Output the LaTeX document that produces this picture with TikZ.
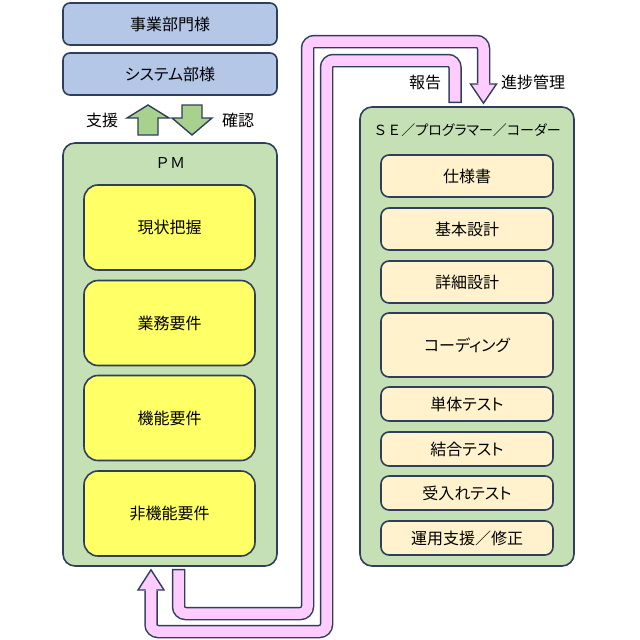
\documentclass[tikz,border=0pt]{standalone}
\usepackage{fontspec}
\setmainfont{Noto Sans CJK JP}[RawFeature=+palt]
\newfontfamily\widefont{Noto Sans CJK JP}
\definecolor{edge}{RGB}{47,62,92}
\definecolor{bluefill}{RGB}{180,199,231}
\definecolor{groupfill}{RGB}{197,224,180}
\definecolor{yellowfill}{RGB}{255,255,102}
\definecolor{creamfill}{RGB}{255,242,204}
\definecolor{arrowgreen}{RGB}{169,209,142}
\definecolor{bandpink}{RGB}{255,204,255}
\begin{document}
\begin{tikzpicture}[x=1pt,y=-1pt,
  txt/.style={font=\fontsize{16}{19}\selectfont},
  topbox/.style={txt,draw=edge,line width=1.6pt,fill=bluefill,rounded corners=7pt,minimum width=214pt,minimum height=42pt},
  groupbox/.style={draw=edge,line width=1.6pt,fill=groupfill,rounded corners=12pt,minimum width=214pt},
  taskbox/.style={txt,draw=edge,line width=1.6pt,fill=yellowfill,rounded corners=14pt,minimum width=171pt,minimum height=85pt},
  workbox/.style={txt,draw=edge,line width=1.6pt,fill=creamfill,rounded corners=8pt,minimum width=172pt},
  greenarrow/.style={draw=edge,line width=1.4pt,fill=arrowgreen,line join=miter},
  bandedge/.style={draw=edge,line width=13.5pt,rounded corners=7pt},
  bandfill/.style={draw=bandpink,line width=10.5pt,rounded corners=7pt},
  bandhead/.style={draw=edge,line width=1.4pt,fill=bandpink,line join=miter}]
  \useasboundingbox (0,0) rectangle (640,640);
  % customer side
  \node[topbox] (jigyo) at (170,24) {事業部門様};
  \node[topbox] (system) at (170,74) {システム部様};
  \filldraw[greenarrow] (138,135) -- (138,118) -- (127,118) -- (148,105) -- (169,118) -- (158,118) -- (158,135) -- cycle;
  \filldraw[greenarrow] (182,105) -- (202,105) -- (202,118) -- (212,118) -- (192,135) -- (172,118) -- (182,118) -- cycle;
  \node[txt] (shien) at (102,120) {支援};
  \node[txt] (kakunin) at (238,120) {確認};
  % PM
  \node[groupbox,minimum height=423pt] (pm) at (170,354.5) {};
  \node[font=\widefont\fontsize{15}{18}\selectfont] (pmlabel) at (170,163) {ＰＭ};
  \node[taskbox] (genjo) at (169.5,227.5) {現状把握};
  \node[taskbox] (gyomu) at (169.5,323) {業務要件};
  \node[taskbox] (kino) at (169.5,418) {機能要件};
  \node[taskbox] (hikino) at (169.5,513.5) {非機能要件};
  % SE
  \node[groupbox,minimum height=459pt] (se) at (467,336.5) {};
  \node[font=\fontsize{14}{17}\selectfont] (selabel) at (467,130) {{\widefont ＳＥ／}プログラマー{\widefont ／}コーダー};
  \node[workbox,minimum height=42pt] (shiyo) at (467,176) {仕様書};
  \node[workbox,minimum height=42pt] (kihon) at (467,229) {基本設計};
  \node[workbox,minimum height=42pt] (shosai) at (467,282) {詳細設計};
  \node[workbox,minimum height=64pt] (coding) at (467,345) {コーディング};
  \node[workbox,minimum height=34pt] (tantai) at (467,404) {単体テスト};
  \node[workbox,minimum height=34pt] (ketsugo) at (467,449) {結合テスト};
  \node[workbox,minimum height=34pt] (ukeire) at (467,493) {受入れテスト};
  \node[workbox,minimum height=34pt] (unyo) at (467,538) {運用支援／修正};
  % progress management band (PM -> SE)
  \draw[bandedge] ([xshift=8.5pt,yshift=-2pt]pm.south) |- (307.5,613.5) |- (483.5,41.5) -- ([xshift=16.5pt,yshift=23pt]se.north);
  \filldraw[bandhead] (470.5,84) -- (496.5,84) -- ([xshift=16.5pt,yshift=3pt]se.north) -- cycle;
  \draw[bandfill,shorten <=1.5pt,shorten >=-2pt] ([xshift=8.5pt,yshift=-2pt]pm.south) |- (307.5,613.5) |- (483.5,41.5) -- ([xshift=16.5pt,yshift=23pt]se.north);
  % report band (SE -> PM)
  \draw[bandedge] ([xshift=-12pt,yshift=3pt]se.north) |- (326.5,60.5) |- (151,631.5) -- ([xshift=-19pt,yshift=-24pt]pm.south);
  \filldraw[bandhead] (138,590) -- (164,590) -- ([xshift=-19pt,yshift=-3pt]pm.south) -- cycle;
  \draw[bandfill,shorten <=1.5pt,shorten >=-2pt] ([xshift=-12pt,yshift=3pt]se.north) |- (326.5,60.5) |- (151,631.5) -- ([xshift=-19pt,yshift=-24pt]pm.south);
  \node[txt] (hokoku) at (425,82) {報告};
  \node[txt] (shinchoku) at (533,82) {進捗管理};
\end{tikzpicture}
\end{document}
